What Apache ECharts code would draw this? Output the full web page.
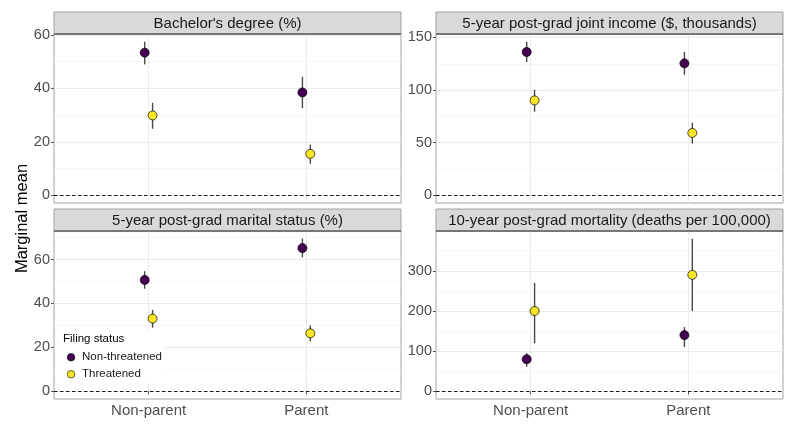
<!DOCTYPE html>
<html><head><meta charset="utf-8">
<script src="https://cdn.jsdelivr.net/npm/echarts@6/dist/echarts.min.js"></script>
<style>html,body{margin:0;padding:0;background:#fff}#c{width:800px;height:429px}</style>
</head><body><div id="c"></div><script>
const categories = ['Non-parent', 'Parent'];
const groups = ['Non-threatened', 'Threatened'];
const panelTitles = ["Bachelor's degree (%)", '5-year post-grad joint income ($, thousands)', '5-year post-grad marital status (%)', '10-year post-grad mortality (deaths per 100,000)'];

const bachelorNT = [53.4, 38.5], bachelorNTLow = [49.0, 32.6], bachelorNTHigh = [57.5, 44.4];
const bachelorTH = [29.9, 15.5], bachelorTHLow = [24.9, 11.8], bachelorTHHigh = [34.6, 19.0];
const incomeNT = [136.2, 125.4], incomeNTLow = [126.7, 114.6], incomeNTHigh = [146.0, 136.2];
const incomeTH = [90.2, 59.3], incomeTHLow = [79.5, 49.1], incomeTHHigh = [100.4, 69.0];
const maritalNT = [50.7, 65.2], maritalNTLow = [46.7, 61.0], maritalNTHigh = [54.7, 69.5];
const maritalTH = [33.1, 26.4], maritalTHLow = [29.0, 22.8], maritalTHHigh = [37.1, 30.0];
const mortalityNT = [80, 140], mortalityNTLow = [61, 110.5], mortalityNTHigh = [94.8, 160];
const mortalityTH = [200, 290], mortalityTHLow = [119.5, 200], mortalityTHHigh = [270, 380];

const bachelorTicks = [0, 20, 40, 60], bachelorMinor = [10, 30, 50];
const incomeTicks = [0, 50, 100, 150], incomeMinor = [25, 75, 125];
const maritalTicks = [0, 20, 40, 60], maritalMinor = [10, 30, 50, 70];
const mortalityTicks = [0, 100, 200, 300], mortalityMinor = [50, 150, 250, 350];

const dodgeWidth = 0.05;
const groupColors = ['#440154', '#FDE725'];

const panels = [
  {nt: [bachelorNT, bachelorNTLow, bachelorNTHigh], th: [bachelorTH, bachelorTHLow, bachelorTHHigh], ticks: bachelorTicks, minor: bachelorMinor},
  {nt: [incomeNT, incomeNTLow, incomeNTHigh], th: [incomeTH, incomeTHLow, incomeTHHigh], ticks: incomeTicks, minor: incomeMinor},
  {nt: [maritalNT, maritalNTLow, maritalNTHigh], th: [maritalTH, maritalTHLow, maritalTHHigh], ticks: maritalTicks, minor: maritalMinor},
  {nt: [mortalityNT, mortalityNTLow, mortalityNTHigh], th: [mortalityTH, mortalityTHLow, mortalityTHHigh], ticks: mortalityTicks, minor: mortalityMinor}
];

const colLeft = [54, 436], colWidth = [347, 347];
const rowTop = [34, 231], rowHeight = [169, 168];
const stripH = 22;
const FONT = '"Liberation Sans", Arial, sans-serif';

const grids = [], xAxes = [], yAxes = [], series = [], graphics = [];

panels.forEach((p, i) => {
  const col = i % 2, row = Math.floor(i / 2);
  const gl = colLeft[col], gt = rowTop[row], gw = colWidth[col], gh = rowHeight[row];
  grids.push({left: gl, top: gt, width: gw, height: gh, show: true, backgroundColor: '#fff',
    borderColor: '#A3A3A3', borderWidth: 1, containLabel: false, outerBoundsMode: 'none'});
  const lows = p.nt[1].concat(p.th[1], [0]);
  const highs = p.nt[2].concat(p.th[2], [0]);
  const lo = Math.min(...lows), hi = Math.max(...highs);
  const span = hi - lo;
  const ymin = lo - 0.05 * span, ymax = hi + 0.05 * span;
  const isBottom = row === 1;
  xAxes.push({type: 'value', gridIndex: i, min: 0.4, max: 2.6,
    axisLine: {show: false},
    axisTick: {show: isBottom, customValues: [1, 2], length: 3, lineStyle: {color: '#555', width: 1}},
    axisLabel: {show: isBottom, customValues: [1, 2], margin: 4, fontSize: 15, color: '#4D4D4D', fontFamily: FONT,
      formatter: v => categories[Math.round(v) - 1]},
    splitLine: {show: true, lineStyle: {color: '#EBEBEB', width: 1}}
  });
  yAxes.push({type: 'value', gridIndex: i, min: ymin, max: ymax, position: 'left',
    axisLine: {show: false}, axisLabel: {show: false},
    axisTick: {show: false, customValues: p.minor},
    splitLine: {show: true, lineStyle: {color: '#F4F4F4', width: 0.7}}
  });
  yAxes.push({type: 'value', gridIndex: i, min: ymin, max: ymax, position: 'left',
    axisLine: {show: false},
    axisTick: {show: true, customValues: p.ticks, length: 3, lineStyle: {color: '#555', width: 1}},
    axisLabel: {show: true, customValues: p.ticks, margin: 4, fontSize: 14.5, color: '#4D4D4D', fontFamily: FONT},
    splitLine: {show: true, lineStyle: {color: '#EBEBEB', width: 1}}
  });
  const yIdx = 2 * i + 1;
  [p.nt, p.th].forEach((g, gi) => {
    const off = (gi === 0 ? -1 : 1) * dodgeWidth / 2;
    series.push({type: 'custom', xAxisIndex: i, yAxisIndex: yIdx, z: 3, silent: true,
      data: categories.map((c, ci) => [ci + 1 + off, g[1][ci], g[2][ci]]),
      encode: {x: 0, y: [1, 2]},
      renderItem: (params, api) => {
        const x = api.value(0);
        const a = api.coord([x, api.value(1)]), b = api.coord([x, api.value(2)]);
        return {type: 'line', shape: {x1: a[0], y1: a[1], x2: b[0], y2: b[1]},
          style: {stroke: '#4A4A4A', lineWidth: 1.4}};
      }
    });
  });
  [p.nt, p.th].forEach((g, gi) => {
    const off = (gi === 0 ? -1 : 1) * dodgeWidth / 2;
    const s = {type: 'scatter', name: groups[gi], xAxisIndex: i, yAxisIndex: yIdx, z: 4,
      symbol: 'circle', symbolSize: 9,
      itemStyle: {color: groupColors[gi], borderColor: '#000', borderWidth: 0.7, opacity: 1},
      data: categories.map((c, ci) => [ci + 1 + off, g[0][ci]])
    };
    if (gi === 0) {
      s.markLine = {silent: true, symbol: 'none', label: {show: false},
        lineStyle: {color: '#000', type: [3.5, 2.5], width: 0.9},
        data: [{yAxis: 0}]};
    }
    series.push(s);
  });
  const st = gt - stripH;
  graphics.push({type: 'rect', z: 6, shape: {x: gl, y: st, width: gw, height: stripH},
    style: {fill: '#D9D9D9', stroke: '#A3A3A3', lineWidth: 1}});
  graphics.push({type: 'line', z: 7, shape: {x1: gl, y1: gt, x2: gl + gw, y2: gt},
    style: {stroke: '#333', lineWidth: 1}});
  graphics.push({type: 'text', z: 8, x: gl + gw / 2, y: st + stripH / 2 + 0.5,
    style: {text: panelTitles[i], fill: '#1A1A1A', font: '15px ' + FONT, align: 'center', verticalAlign: 'middle'}});
});

graphics.push({type: 'rect', z: 6, shape: {x: 55.5, y: 330, width: 109, height: 53}, style: {fill: '#fff'}});
graphics.push({type: 'text', z: 8, x: 63, y: 338.5,
  style: {text: 'Filing status', fill: '#000', font: '11.5px ' + FONT, align: 'left', verticalAlign: 'middle'}});
graphics.push({type: 'text', z: 8, x: 22.5, y: 218.5, rotation: Math.PI / 2,
  style: {text: 'Marginal mean', fill: '#000', font: '16.5px ' + FONT, align: 'center', verticalAlign: 'middle'}});

const option = {
  animation: false,
  backgroundColor: '#fff',
  grid: grids, xAxis: xAxes, yAxis: yAxes, series: series,
  graphic: {elements: graphics},
  legend: {z: 20, orient: 'vertical', left: 62, top: 346, itemWidth: 12, itemHeight: 7.5, itemGap: 4.5,
    icon: 'circle', data: groups, selectedMode: false,
    itemStyle: {borderWidth: 0.6, borderColor: '#000'},
    textStyle: {fontSize: 11.5, lineHeight: 12.5, color: '#1A1A1A', fontFamily: FONT, padding: [0, 0, 0, 0]}}
};
const chart = echarts.init(document.getElementById('c'));
chart.setOption(option);
</script></body></html>
